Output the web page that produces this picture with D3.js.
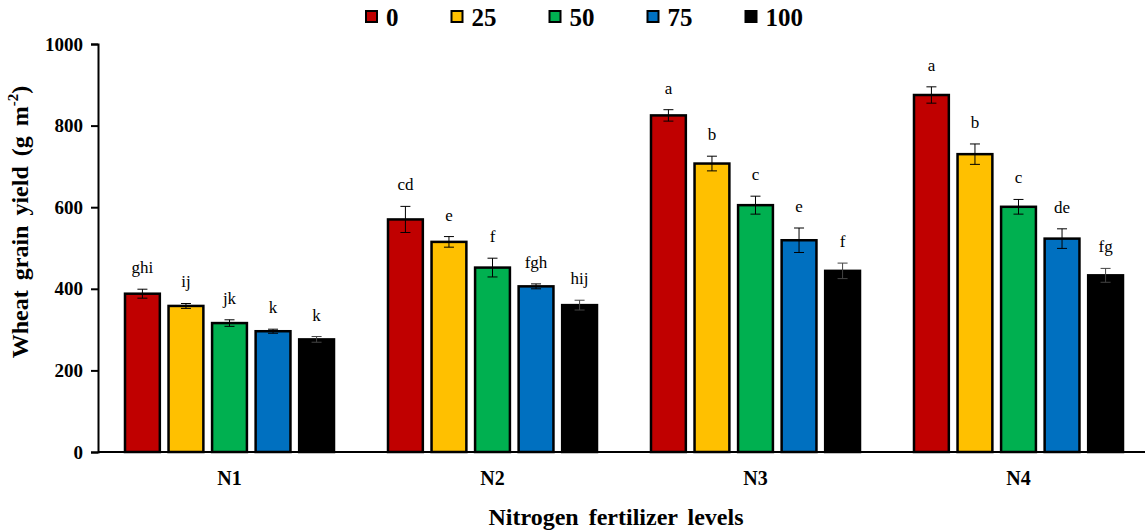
<!DOCTYPE html>
<html>
<head>
<meta charset="utf-8">
<title>Wheat grain yield</title>
<script src="https://cdn.jsdelivr.net/npm/d3@7"></script>
<style>
	body { margin: 0; background: white; }
	svg, svg text { font-family: "Times New Roman", "Liberation Serif", serif; }
	.axis path, .axis line { stroke: black; stroke-width: 2px; }
	.axis text { font-weight: bold; fill: black; }
	.letter { font-size: 17px; }
</style>
</head>
<body>
<svg id="chart" width="1145" height="531"></svg>
<script>
	// nitrogen levels and the five series (legend)
	var groups = ["N1", "N2", "N3", "N4"];
	var series = ["0", "25", "50", "75", "100"];
	var colors = ["#C00000", "#FFC000", "#00B050", "#0070C0", "#000000"];

	// yield (g m-2), one row per group, one column per series
	var values = [
		[388, 358, 316, 296, 276],
		[570, 515, 452, 406, 360],
		[825, 707, 605, 519, 444],
		[875, 730, 601, 523, 433]
	];
	var errors = [
		[11, 6, 8, 5, 7],
		[32, 13, 23, 6, 12],
		[14, 18, 22, 30, 19],
		[20, 25, 18, 24, 17]
	];
	var letters = [
		["ghi", "ij", "jk", "k", "k"],
		["cd", "e", "f", "fgh", "hij"],
		["a", "b", "c", "e", "f"],
		["a", "b", "c", "de", "fg"]
	];
	var yTicks = [0, 200, 400, 600, 800, 1000];

	var serif = "'Times New Roman', 'Liberation Serif', serif";
	var svg = d3.select("#chart").attr("font-family", serif);

	var y = d3.scaleLinear().domain([0, 1000]).range([452, 44]);
	var x0 = d3.scaleBand().domain(groups).range([98, 1150]);
	var x1 = d3.scaleBand().domain(series).range([0, x0.bandwidth()])
		.paddingInner(0.2).paddingOuter(0.62);

	var data = [];
	groups.forEach(function(g, gi) {
		series.forEach(function(s, si) {
			data.push({ g: g, s: s, si: si, v: values[gi][si], e: errors[gi][si], l: letters[gi][si] });
		});
	});

	var bars = svg.append("g").selectAll("g.bar")
		.data(data).enter().append("g")
			.attr("transform", d => "translate(" + (x0(d.g) + x1(d.s)) + ",0)");

	bars.append("rect")
		.attr("x", 0)
		.attr("width", x1.bandwidth())
		.attr("y", d => y(d.v))
		.attr("height", d => y(0) - y(d.v))
		.attr("fill", d => colors[d.si])
		.attr("stroke", "black")
		.attr("stroke-width", 2.5);

	var bw = x1.bandwidth() / 2;
	bars.append("path")
		.attr("d", d => "M" + (bw - 5) + "," + y(d.v + d.e) + "H" + (bw + 5) +
			"M" + bw + "," + y(d.v + d.e) + "V" + y(d.v - d.e) +
			"M" + (bw - 5) + "," + y(d.v - d.e) + "H" + (bw + 5))
		.attr("stroke", d => d.si == 4 ? "#444" : "black")
		.attr("stroke-width", 1)
		.attr("fill", "none");

	bars.append("text")
		.classed("letter", true)
		.attr("x", bw)
		.attr("y", d => y(d.v + d.e) - 16)
		.attr("text-anchor", "middle")
		.text(d => d.l);

	// axes
	svg.append("g")
		.classed("axis", true)
		.attr("transform", "translate(98,0)")
		.call(d3.axisLeft(y).tickValues(yTicks).tickFormat(d3.format("d")).tickSize(7).tickPadding(8))
		.attr("font-family", serif)
		.call(g => g.selectAll("text").style("font-size", "19px"));

	svg.append("g")
		.classed("axis", true)
		.attr("transform", "translate(0,452)")
		.call(d3.axisBottom(x0).tickSize(0).tickPadding(19).tickSizeOuter(0))
		.attr("font-family", serif)
		.call(g => g.select(".domain").attr("d", "M98,0H1145"))
		.call(g => g.selectAll("text").style("font-size", "20px"));

	// axis titles
	svg.append("text")
		.attr("transform", "translate(28,222) rotate(-90)")
		.attr("text-anchor", "middle")
		.style("font-size", "24px")
		.style("font-weight", "bold")
		.style("word-spacing", "4px")
		.html('Wheat grain yield (g m<tspan dy="-10" font-size="15px">-2</tspan><tspan dy="10">)</tspan>');

	svg.append("text")
		.attr("x", 616)
		.attr("y", 525)
		.attr("text-anchor", "middle")
		.style("font-size", "24px")
		.style("font-weight", "bold")
		.style("word-spacing", "4px")
		.text("Nitrogen fertilizer levels");

	// legend, items spaced by their text width
	var legend = svg.append("g").attr("transform", "translate(366,11)");
	var lx = 0;
	series.forEach(function(s, i) {
		var item = legend.append("g").attr("transform", "translate(" + lx + ",0)");
		item.append("rect")
			.attr("width", 11).attr("height", 11)
			.attr("fill", colors[i])
			.attr("stroke", "black").attr("stroke-width", 2);
		var t = item.append("text")
			.attr("x", 20).attr("y", 15)
			.style("font-size", "25px")
			.style("font-weight", "bold")
			.text(s);
		lx += 20 + t.node().getComputedTextLength() + 53;
	});
</script>
</body>
</html>
